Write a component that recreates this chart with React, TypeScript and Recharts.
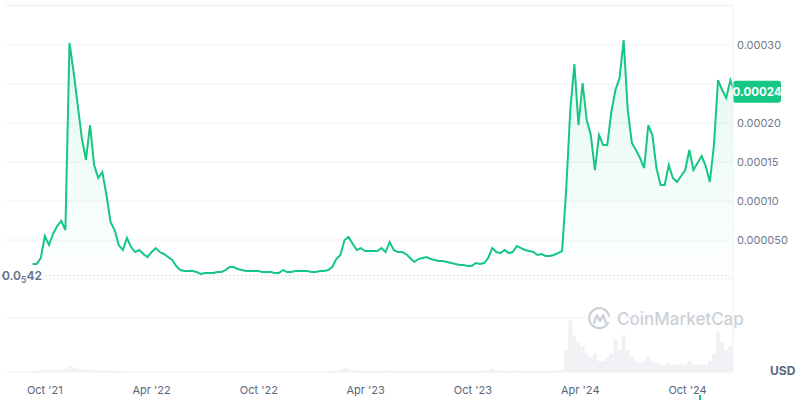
import React from "react";
import { ComposedChart, Area, Bar, XAxis, YAxis, CartesianGrid, ReferenceLine } from "recharts";

// one point per week, days counted from 1 Oct 2021
const firstDay = -21;
const stepDays = 7;

// weekly price in millionths of a dollar
const priceMicro = [
    19.2, 19.2, 26.9, 55.1, 43.6, 57.7, 67.9, 74.4, 62.8, 302.6,
    265.4, 223.1, 180.8, 152.6, 197.4, 146.2, 129.5, 137.2, 107.7, 73.1,
    62.8, 43.6, 37.2, 52.6, 41.0, 34.6, 37.2, 32.1, 28.2, 34.6,
    39.7, 34.6, 32.1, 28.2, 24.4, 16.7, 11.5, 10.3, 10.3, 10.3,
    9.0, 6.4, 7.7, 7.7, 7.7, 9.0, 9.0, 11.5, 15.4, 15.4,
    12.8, 11.5, 10.3, 10.3, 10.3, 10.3, 9.0, 9.0, 9.0, 7.7,
    7.7, 11.5, 9.0, 9.0, 10.3, 10.3, 10.3, 10.3, 9.0, 9.0,
    10.3, 10.3, 11.5, 15.4, 25.6, 30.8, 50.0, 53.8, 44.9, 37.2,
    39.7, 35.9, 35.9, 35.9, 35.9, 39.7, 34.6, 47.4, 37.2, 34.6,
    34.6, 32.1, 26.9, 21.8, 25.6, 26.9, 28.2, 25.6, 24.4, 23.1,
    23.1, 21.8, 20.5, 19.2, 17.9, 17.9, 16.7, 16.7, 20.5, 19.2,
    20.5, 26.9, 39.7, 34.6, 33.3, 37.2, 33.3, 34.6, 42.3, 39.7,
    37.2, 35.9, 34.6, 30.8, 32.1, 29.5, 29.5, 30.8, 33.3, 35.9,
    114.1, 216.7, 275.6, 197.4, 251.3, 203.8, 184.6, 139.7, 184.6, 171.8,
    171.8, 214.1, 242.3, 257.7, 306.4, 216.7, 174.4, 165.4, 155.1, 142.3,
    197.4, 184.6, 142.3, 120.5, 120.5, 146.2, 129.5, 124.4, 132.1, 139.7,
    165.4, 139.7, 148.7, 157.7, 144.9, 124.4, 171.8, 255.1, 242.3, 232.1,
    255.1, 239.7,
];

// weekly traded volume, relative units
const volume = [
    0.3, 0.3, 0.4, 0.6, 0.5, 0.5, 0.6, 0.5, 0.8, 1.6,
    1.2, 0.9, 0.7, 0.6, 0.6, 0.5, 0.4, 0.4, 0.4, 0.3,
    0.3, 0.3, 0.2, 0.3, 0.2, 0.2, 0.2, 0.2, 0.2, 0.2,
    0.2, 0.2, 0.2, 0.2, 0.2, 0.2, 0.2, 0.2, 0.2, 0.2,
    0.2, 0.2, 0.2, 0.2, 0.2, 0.2, 0.2, 0.2, 0.2, 0.2,
    0.2, 0.2, 0.2, 0.2, 0.2, 0.2, 0.2, 0.2, 0.2, 0.2,
    0.2, 0.2, 0.2, 0.2, 0.2, 0.2, 0.2, 0.2, 0.2, 0.2,
    0.2, 0.2, 0.2, 0.3, 0.4, 0.6, 1.0, 0.8, 0.5, 0.4,
    0.3, 0.3, 0.3, 0.3, 0.3, 0.3, 0.3, 0.4, 0.3, 0.3,
    0.3, 0.3, 0.3, 0.3, 0.3, 0.3, 0.3, 0.3, 0.3, 0.3,
    0.3, 0.3, 0.3, 0.3, 0.3, 0.3, 0.3, 0.3, 0.3, 0.3,
    0.3, 0.5, 0.9, 0.5, 0.3, 0.3, 0.3, 0.3, 0.4, 0.3,
    0.3, 0.3, 0.3, 0.3, 0.3, 0.3, 0.3, 0.3, 0.4, 0.5,
    6, 14, 10, 8, 7, 5, 4, 5, 3, 3,
    4, 5, 9, 6, 10, 6, 4, 3, 2.5, 3,
    4, 3, 2.5, 2, 2, 2.5, 2, 2, 2, 2,
    3, 2, 2, 2, 2, 3, 5, 11, 8, 6,
    7, 13,
];

const xTicks = [0, 182, 365, 547, 730, 913, 1096];
const xTickLabels = ["Oct '21", "Apr '22", "Oct '22", "Apr '23", "Oct '23", "Apr '24", "Oct '24"];

const yTicks = [-50, 0, 50, 100, 150, 200, 250, 300, 350];
const yTickLabels: Record<number, string> = {
    50: "0.000050",
    100: "0.00010",
    150: "0.00015",
    200: "0.00020",
    300: "0.00030",
};

const lastPrice = 240;
const lowPrice = 4.2;

const GREEN = "#16c784";

const data = priceMicro.map((p, i) => ({ t: firstDay + i * stepDays, price: p, volume: volume[i] }));

const PriceBadge = ({ viewBox }: any) => {
    if (!viewBox) return null;
    const { x, y, width } = viewBox;
    return (
        <g>
            <rect x={x + width} y={y - 11} width={48} height={22} rx={3} fill={GREEN} />
            <text x={x + width + 24} y={y + 4} textAnchor="middle" fill="#fff" fontSize={11.5} fontWeight={700}>
                {(lastPrice / 1e6).toFixed(5)}
            </text>
        </g>
    );
};

const LowLabel = ({ viewBox }: any) => {
    if (!viewBox) return null;
    const { x, y } = viewBox;
    return (
        <g>
            <circle cx={x - 42} cy={y} r={1.3} fill="#9aa3b2" />
            <text x={x - 3} y={y + 4} textAnchor="end" fill="#616e85" fontSize={12} fontWeight={600}>
                0.0<tspan fontSize={8.5} dy={3}>5</tspan><tspan dy={-3}>42</tspan>
            </text>
        </g>
    );
};

export default function App() {
    return (
        <div style={{ position: "absolute", left: 0, top: 0, width: 800, height: 400, background: "#fff", fontFamily: "Inter, sans-serif" }}>
            <ComposedChart width={800} height={400} data={data} margin={{ top: 5, right: 0, bottom: 0, left: 5 }}>
                <defs>
                    <linearGradient id="priceFill" x1="0" y1="0" x2="0" y2="1">
                        <stop offset="0%" stopColor={GREEN} stopOpacity={0.2} />
                        <stop offset="100%" stopColor={GREEN} stopOpacity={0.01} />
                    </linearGradient>
                </defs>
                <CartesianGrid yAxisId="price" vertical={false} stroke="#eff2f5" />
                <XAxis
                    dataKey="t"
                    type="number"
                    domain={[-68, 1173.5]}
                    allowDataOverflow
                    ticks={xTicks}
                    interval={0}
                    tickFormatter={(v) => xTickLabels[xTicks.indexOf(v)] ?? ""}
                    axisLine={false}
                    tickLine={false}
                    tickMargin={8}
                    height={28}
                    tick={{ fill: "#58667e", fontSize: 11 }}
                />
                <YAxis
                    yAxisId="price"
                    orientation="right"
                    width={67}
                    domain={[-119.2, 351.3]}
                    allowDataOverflow
                    ticks={yTicks}
                    interval={0}
                    tickFormatter={(v) => yTickLabels[v] ?? ""}
                    axisLine={{ stroke: "#eff2f5" }}
                    tickLine={false}
                    tickSize={0}
                    tickMargin={4}
                    tick={{ fill: "#6f7a8c", fontSize: 11 }}
                />
                <YAxis yAxisId="vol" hide domain={[0, 100]} />
                <Bar yAxisId="vol" dataKey="volume" fill="#f0f1f4" barSize={4} isAnimationActive={false} />
                <Area
                    yAxisId="price"
                    type="linear"
                    dataKey="price"
                    stroke={GREEN}
                    strokeWidth={2}
                    fill="url(#priceFill)"
                    dot={false}
                    activeDot={false}
                    isAnimationActive={false}
                />
                <ReferenceLine
                    yAxisId="price"
                    segment={[{ x: 0, y: lowPrice }, { x: 1173.5, y: lowPrice }]}
                    stroke="#d6c8cc"
                    strokeDasharray="1.5 2.5"
                    label={(p: any) => <LowLabel {...p} />}
                />
                <ReferenceLine yAxisId="price" y={lastPrice} stroke="none" label={(p: any) => <PriceBadge {...p} />} />
            </ComposedChart>
            <div style={{ position: "absolute", left: 588, top: 307, display: "flex", alignItems: "center", gap: 5, color: "#ccd1d8", fontSize: 17, fontWeight: 500 }}>
                <svg width={24} height={24} viewBox="0 0 24 24">
                    <path d="M20 16 A10 10 0 1 1 21 9" fill="none" stroke="#ccd1d8" strokeWidth={2.2} strokeLinecap="round" />
                    <path d="M6 16 L9 8 L12 14 L15 8 L18 16" fill="none" stroke="#ccd1d8" strokeWidth={2.2} strokeLinejoin="round" strokeLinecap="round" />
                </svg>
                <span>CoinMarketCap</span>
            </div>
            <div style={{ position: "absolute", left: 770, top: 363, color: "#58667e", fontSize: 12, fontWeight: 700 }}>USD</div>
            <div style={{ position: "absolute", left: 699, top: 395, width: 2, height: 5, background: GREEN }} />
        </div>
    );
}
